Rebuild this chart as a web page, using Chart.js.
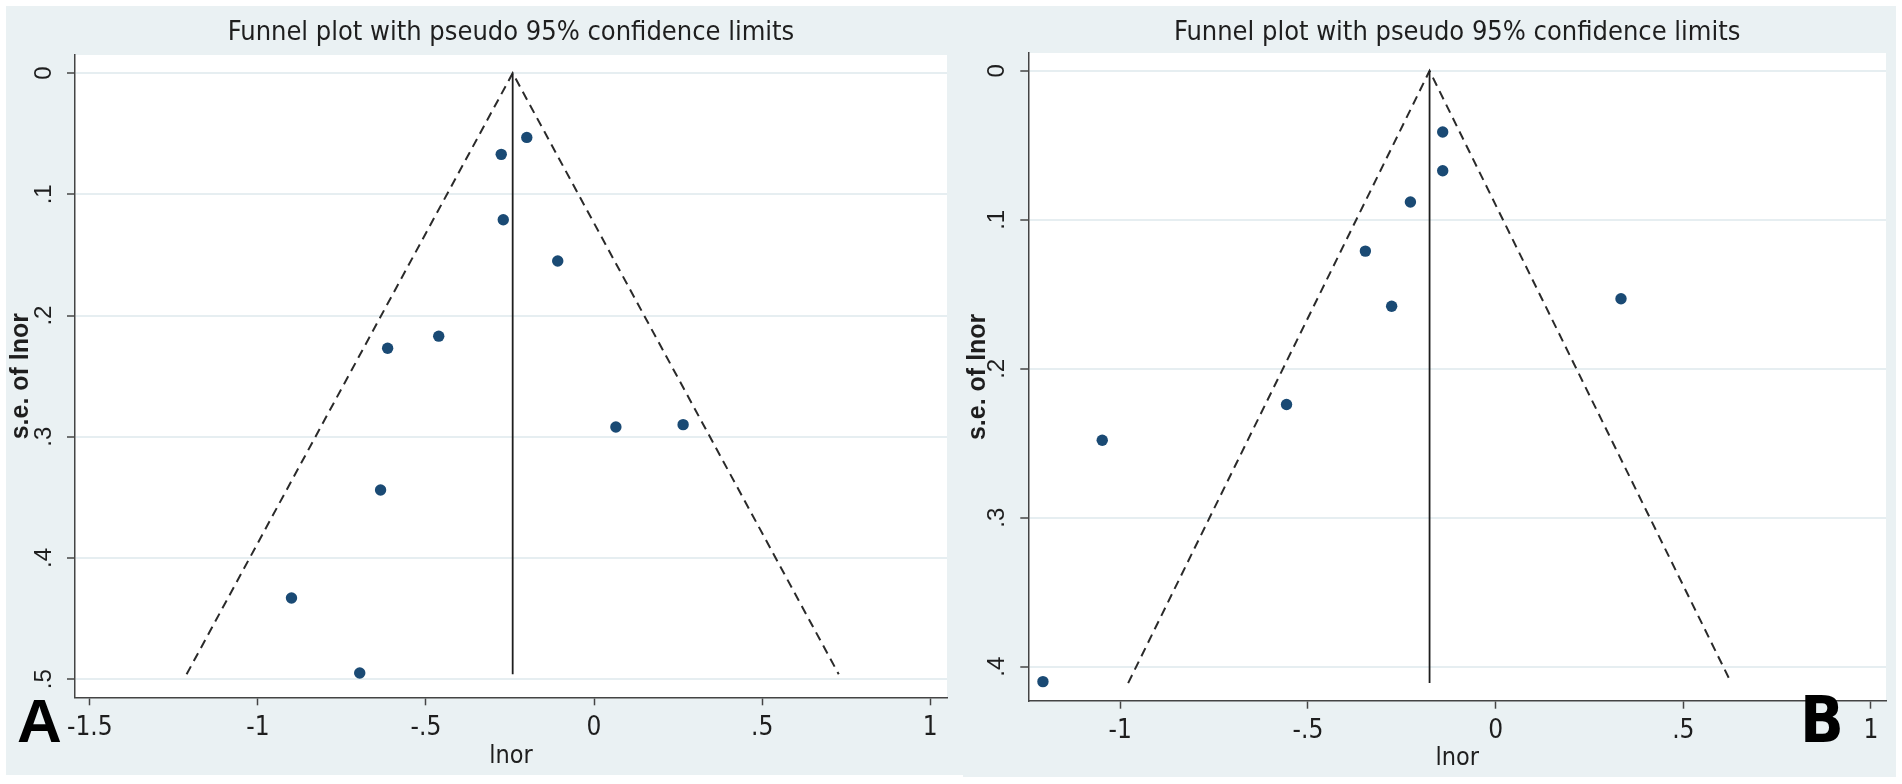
<!DOCTYPE html>
<html>
<head>
<meta charset="utf-8">
<script src="https://cdn.jsdelivr.net/npm/chart.js@4.4.1/dist/chart.umd.min.js"></script>
<style>
  html, body { margin: 0; padding: 0; background: #fff; }
  body { width: 1902px; height: 784px; position: relative; overflow: hidden; }
  .panel { position: absolute; }
  #wrapA { left: 6px; top: 6px; width: 957px; height: 769px; }
  #wrapB { left: 963px; top: 6px; width: 933px; height: 771px; }
</style>
</head>
<body>
<div class="panel" id="wrapA"><canvas id="chartA"></canvas></div>
<div class="panel" id="wrapB"><canvas id="chartB"></canvas></div>
<script>
const titleText = 'Funnel plot with pseudo 95% confidence limits';
const xTitle = 'lnor';
const yTitle = 's.e. of lnor';

// panel A: study estimates
const lnorA = [-0.200, -0.276, -0.270, -0.108, -0.462, -0.614, 0.065, 0.265, -0.635, -0.900, -0.697];
const seA   = [0.053, 0.067, 0.121, 0.155, 0.217, 0.227, 0.292, 0.290, 0.344, 0.433, 0.495];
// pooled estimate and pseudo 95% limits at the largest s.e.
const pooledA = -0.242;
const seMaxA = 0.496;
const limitsA = [-1.212, 0.728];
const xTicksA = [-1.5, -1, -0.5, 0, 0.5, 1];
const xLabelsA = ['-1.5', '-1', '-.5', '0', '.5', '1'];
const yTicksA = [0, 0.1, 0.2, 0.3, 0.4, 0.5];
const yLabelsA = ['0', '.1', '.2', '.3', '.4', '.5'];

// panel B
const lnorB = [-0.141, -0.141, -0.227, -0.347, -0.277, 0.334, -0.557, -1.048, -1.206];
const seB   = [0.041, 0.067, 0.088, 0.121, 0.158, 0.153, 0.224, 0.248, 0.410];
const pooledB = -0.176;
const seMaxB = 0.411;
const limitsB = [-0.979, 0.628];
const xTicksB = [-1, -0.5, 0, 0.5, 1];
const xLabelsB = ['-1', '-.5', '0', '.5', '1'];
const yTicksB = [0, 0.1, 0.2, 0.3, 0.4];
const yLabelsB = ['0', '.1', '.2', '.3', '.4'];

const NARROW = "'Liberation Sans Narrow', 'Arial Narrow', 'DejaVu Sans Condensed', sans-serif";
const SANS = "'Liberation Sans', Arial, sans-serif";
const GREY = '#eaf1f3';
const NAVY = '#1a4a74';
const AXIS = '#444';

const panelBg = {
  id: 'panelBg',
  beforeDraw(chart) {
    const { ctx, chartArea: a } = chart;
    ctx.save();
    ctx.fillStyle = GREY;
    ctx.fillRect(0, 0, chart.width, chart.height);
    ctx.fillStyle = '#fff';
    ctx.fillRect(a.left, a.top, a.right - a.left, a.bottom - a.top);
    ctx.restore();
  }
};

const panelLetter = {
  id: 'panelLetter',
  afterDraw(chart, args, opts) {
    const ctx = chart.ctx;
    ctx.save();
    ctx.fillStyle = '#000';
    ctx.font = opts.font;
    ctx.textBaseline = 'alphabetic';
    ctx.fillText(opts.text, opts.x, opts.y);
    ctx.restore();
  }
};

function funnel(id, p) {
  const pts = p.lnor.map((x, i) => ({ x, y: p.se[i] }));
  new Chart(document.getElementById(id), {
    type: 'scatter',
    data: {
      datasets: [
        { data: pts, pointRadius: 5.7, pointBackgroundColor: NAVY, pointBorderWidth: 0 },
        { data: [{ x: p.pooled, y: 0 }, { x: p.pooled, y: p.seMax }],
          showLine: true, borderColor: '#1e1e1e', borderWidth: 1.8, pointRadius: 0 },
        { data: [{ x: p.limits[0], y: p.seMax }, { x: p.pooled, y: 0 }, { x: p.limits[1], y: p.seMax }],
          showLine: true, borderColor: '#2a2a2a', borderWidth: 2, borderDash: [9, 6], pointRadius: 0 }
      ]
    },
    options: {
      responsive: true,
      maintainAspectRatio: false,
      animation: false,
      layout: { padding: { left: 0, right: p.padRight, top: 0, bottom: 0 } },
      plugins: {
        legend: { display: false },
        tooltip: { enabled: false },
        title: {
          display: true, text: titleText, fullSize: false, color: '#1e1e1e',
          font: { family: NARROW, size: 27, weight: 'normal', lineHeight: 1.2 },
          padding: { top: 11, bottom: p.titleBottom }
        },
        panelLetter: p.letter
      },
      scales: {
        x: {
          type: 'linear', min: p.xMin, max: p.xMax,
          afterBuildTicks: s => { s.ticks = p.xTicks.map(v => ({ value: v })); },
          afterFit: s => { s.height = p.xHeight; },
          ticks: { callback: (v, i) => p.xLabels[i], autoSkip: false, maxRotation: 0,
                   color: '#1e1e1e', padding: 7, font: { family: NARROW, size: 26 } },
          grid: { drawOnChartArea: false, tickLength: 8, tickColor: AXIS, tickWidth: 1.5 },
          border: { color: AXIS, width: 1.5 },
          title: { display: true, text: xTitle, color: '#1e1e1e',
                   font: { family: NARROW, size: 25, lineHeight: 1.2 }, padding: { top: 0, bottom: 4 } }
        },
        y: {
          type: 'linear', reverse: true, min: p.yMin, max: p.yMax,
          afterBuildTicks: s => { s.ticks = p.yTicks.map(v => ({ value: v })); },
          afterFit: s => { s.width = p.yWidth; },
          ticks: { callback: (v, i) => p.yLabels[i], autoSkip: false, minRotation: 90, maxRotation: 90,
                   crossAlign: 'center', color: '#1e1e1e', padding: 13, font: { family: SANS, size: 24 } },
          grid: { color: '#e6eef1', lineWidth: 2, tickLength: 8, tickColor: AXIS, tickWidth: 1.5 },
          border: { color: AXIS, width: 1.5 },
          title: { display: true, text: yTitle, color: '#1e1e1e',
                   font: { family: SANS, size: 25, weight: 'bold', lineHeight: 1.2 }, padding: { top: 0, bottom: 0 } }
        }
      }
    },
    plugins: [panelBg, panelLetter]
  });
}

funnel('chartA', {
  lnor: lnorA, se: seA, pooled: pooledA, seMax: seMaxA, limits: limitsA,
  xTicks: xTicksA, xLabels: xLabelsA, yTicks: yTicksA, yLabels: yLabelsA,
  xMin: -1.544, xMax: 1.05, yMin: -0.015, yMax: 0.515,
  yWidth: 69, xHeight: 77.7, padRight: 16, titleBottom: 5.6,
  letter: { text: 'A', font: 'bold 62px ' + SANS, x: 11, y: 736 }
});

funnel('chartB', {
  lnor: lnorB, se: seB, pooled: pooledB, seMax: seMaxB, limits: limitsB,
  xTicks: xTicksB, xLabels: xLabelsB, yTicks: yTicksB, yLabels: yLabelsB,
  xMin: -1.245, xMax: 1.04, yMin: -0.012, yMax: 0.4228,
  yWidth: 65.3, xHeight: 76.3, padRight: 10, titleBottom: 3.6,
  letter: { text: 'B', font: 'bold 64px ' + NARROW, x: 837, y: 736 }
});
</script>
</body>
</html>
